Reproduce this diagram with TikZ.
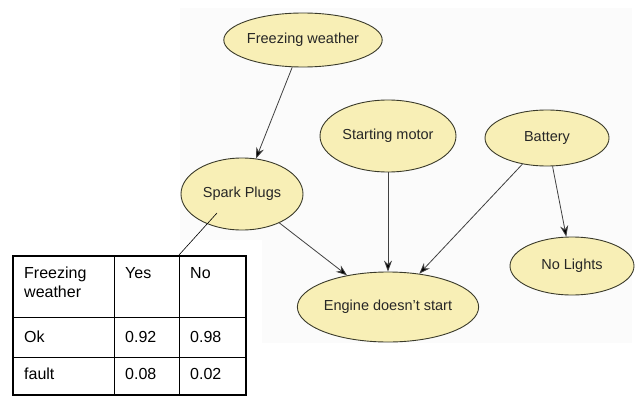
\documentclass[tikz,border=0pt]{standalone}
\usepackage{fontspec}
\setmainfont{Liberation Sans}
\usetikzlibrary{shapes.geometric,arrows.meta}
\definecolor{nodefill}{HTML}{F8EFB6}
\definecolor{nodeline}{HTML}{3A3A2A}
\definecolor{edgecol}{HTML}{404040}
\definecolor{bgcol}{HTML}{FBFBFB}
\tikzset{
  bn/.style={ellipse, draw=nodeline, fill=nodefill, line width=0.9pt, inner sep=0pt,
    text=black!85, font=\fontsize{14.5}{16}\selectfont},
  edge/.style={draw=edgecol, line width=0.8pt, -{Stealth[length=11pt,width=8pt,fill=black]}},
  cell/.style={anchor=base west, inner sep=0pt, font=\fontsize{16}{18}\selectfont},
}
\begin{document}
\begin{tikzpicture}[x=1pt,y=-1pt]
\useasboundingbox (0,0) rectangle (636,396);
\fill[bgcol] (180,8) rectangle (632,343);
\fill[white] (0,240) rectangle (262,396);
% nodes
\node[bn, minimum width=150pt, minimum height=54pt] (fw) at (303,40) {Freezing weather};
\node[bn, minimum width=136pt, minimum height=72pt] (sm) at (388,136) {Starting motor};
\node[bn, minimum width=124pt, minimum height=56pt] (bat) at (547,138) {Battery};
\node[bn, minimum width=122pt, minimum height=72pt] (sp) at (242,194) {Spark Plugs};
\node[bn, minimum width=172pt, minimum height=70pt] (eng) at (388,307) {Engine doesn't start};
\node[bn, minimum width=124pt, minimum height=58pt] (nl) at (572,266) {No Lights};
% edges
\draw[edge] (fw) -- (sp);
\draw[edge] (sm) -- (eng);
\draw[edge] (bat) -- (eng);
\draw[edge] (bat) -- (nl);
\draw[edge] (sp) -- (eng);
% table
\node[draw=black, line width=1.8pt, fill=white, minimum width=233pt, minimum height=139pt,
  inner sep=0pt, anchor=north west] (tbl) at (12,255) {};
\draw[line width=1pt] (114,255) -- (114,394);
\draw[line width=1pt] (179,255) -- (179,394);
\draw[line width=1pt] (12,317) -- (245,317);
\draw[line width=1pt] (12,357) -- (245,357);
\coordinate (tip) at (217,213);
\draw[line width=0.6pt] (tbl.north west -| 179,0) -- (tip);
\node[cell] (c11) at (24,278) {Freezing};
\node[cell] (c12) at (24,297) {weather};
\node[cell] (c2) at (125,278) {Yes};
\node[cell] (c3) at (190,278) {No};
\node[cell] (r1) at (24,342) {Ok};
\node[cell] (r12) at (125,342) {0.92};
\node[cell] (r13) at (190,342) {0.98};
\node[cell] (r2) at (24,379) {fault};
\node[cell] (r22) at (125,379) {0.08};
\node[cell] (r23) at (190,379) {0.02};
\end{tikzpicture}
\end{document}
